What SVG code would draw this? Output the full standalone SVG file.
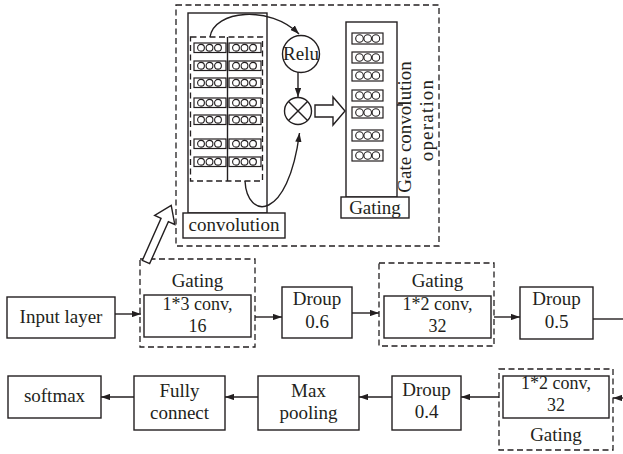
<svg xmlns="http://www.w3.org/2000/svg" width="623" height="454" viewBox="0 0 623 454">
<defs>
<style>
.b{fill:#fff;stroke:#231f20;stroke-width:1.4}
.d{fill:none;stroke:#231f20;stroke-width:1.3;stroke-dasharray:6,3.5}
.t{font-family:"Liberation Serif","Times New Roman",serif;font-size:19px;fill:#231f20;text-anchor:middle}
.s{font-size:18px}
.l{fill:none;stroke:#231f20;stroke-width:1.4}
.h{fill:#fff;stroke:#231f20;stroke-width:1.4;stroke-linejoin:miter}
.o{fill:none;stroke:#231f20;stroke-width:1.1}
</style>
<marker id="ah" viewBox="0 0 10 7" refX="10" refY="3.5" markerWidth="9" markerHeight="6.5" markerUnits="userSpaceOnUse" orient="auto"><path d="M0,0 L10,3.5 L0,7 z" fill="#231f20"/></marker>
<g id="cellL">
<rect x="0" y="0" width="32" height="9.5" fill="#fff" stroke="#231f20" stroke-width="1.2"/>
<circle cx="7" cy="4.75" r="3.4" class="o"/>
<circle cx="15.5" cy="4.75" r="3.4" class="o"/>
<circle cx="24" cy="4.75" r="3.4" class="o"/>
</g>
<g id="cellR">
<rect x="0" y="0" width="31" height="11" fill="#fff" stroke="#231f20" stroke-width="1.2"/>
<circle cx="7.5" cy="5.5" r="3.8" class="o"/>
<circle cx="15.7" cy="5.5" r="3.8" class="o"/>
<circle cx="23.9" cy="5.5" r="3.8" class="o"/>
</g>
</defs>
<rect width="623" height="454" fill="#fff"/>

<g id="gate-conv-operation">
<rect x="176" y="5" width="263" height="241" class="d"/>
<g id="conv-column">
<rect x="188" y="13" width="79" height="200" class="b"/>
<rect x="190.5" y="37" width="72" height="144" class="d"/>
<line x1="227.5" y1="37" x2="227.5" y2="181" class="l" stroke-width="1.2"/>
<use href="#cellL" x="194" y="43"/><use href="#cellL" x="229" y="43"/>
<use href="#cellL" x="194" y="61"/><use href="#cellL" x="229" y="61"/>
<use href="#cellL" x="194" y="78"/><use href="#cellL" x="229" y="78"/>
<use href="#cellL" x="194" y="98"/><use href="#cellL" x="229" y="98"/>
<use href="#cellL" x="194" y="115"/><use href="#cellL" x="229" y="115"/>
<use href="#cellL" x="194" y="139"/><use href="#cellL" x="229" y="139"/>
<use href="#cellL" x="194" y="157"/><use href="#cellL" x="229" y="157"/>
</g>
<g id="convolution">
<rect x="183" y="213" width="102" height="25" class="b"/>
<text x="234" y="231" class="t">convolution</text>
</g>
<g id="relu">
<circle cx="301" cy="54" r="18.5" class="b"/>
<text x="301" y="60" class="t">Relu</text>
</g>
<g id="multiply">
<circle cx="298" cy="111" r="13.5" class="b"/>
<line x1="288.5" y1="101.5" x2="307.5" y2="120.5" class="l"/>
<line x1="307.5" y1="101.5" x2="288.5" y2="120.5" class="l"/>
</g>
<g id="gate-column">
<rect x="346" y="22" width="51" height="175" class="b"/>
<use href="#cellR" x="352" y="33"/>
<use href="#cellR" x="352" y="52"/>
<use href="#cellR" x="352" y="70"/>
<use href="#cellR" x="352" y="90"/>
<use href="#cellR" x="352" y="107"/>
<use href="#cellR" x="352" y="130"/>
<use href="#cellR" x="352" y="150"/>
</g>
<g id="gating-top">
<rect x="341" y="197" width="68" height="21" class="b"/>
<text x="375" y="214" class="t">Gating</text>
</g>
<g id="label">
<line x1="397" y1="105" x2="403" y2="105" class="l"/>
<text transform="translate(411,127) rotate(-90)" class="t">Gate convolution</text>
<text transform="translate(433,120) rotate(-90)" class="t" letter-spacing="1.2">operation</text>
</g>
</g>

<g id="input"><rect x="7" y="297" width="108" height="41" class="b"/><text x="61" y="323" class="t">Input layer</text></g>
<g id="gating1"><rect x="140" y="259" width="115" height="88" class="d"/><rect x="144" y="295" width="107" height="42" class="b"/><text x="197.5" y="287" class="t">Gating</text><text x="197.5" y="310" class="t s">1*3 conv,</text><text x="197.5" y="332" class="t s">16</text></g>
<g id="droup06"><rect x="282" y="287" width="70" height="51" class="b"/><text x="317" y="305" class="t">Droup</text><text x="317" y="328" class="t">0.6</text></g>
<g id="gating2"><rect x="379" y="263" width="115" height="83" class="d"/><rect x="384" y="296" width="107" height="42" class="b"/><text x="437.5" y="287" class="t">Gating</text><text x="437.5" y="310" class="t s">1*2 conv,</text><text x="437.5" y="332" class="t s">32</text></g>
<g id="droup05"><rect x="520" y="287" width="73" height="52" class="b"/><text x="556.5" y="305" class="t">Droup</text><text x="556.5" y="328" class="t">0.5</text></g>

<g id="softmax"><rect x="8" y="376" width="93" height="42" class="b"/><text x="54.5" y="402" class="t">softmax</text></g>
<g id="fully"><rect x="134" y="376" width="91" height="54" class="b"/><text x="179.5" y="397" class="t">Fully</text><text x="179.5" y="419" class="t">connect</text></g>
<g id="maxpool"><rect x="258" y="376" width="101" height="54" class="b"/><text x="308.5" y="397" class="t">Max</text><text x="308.5" y="419" class="t">pooling</text></g>
<g id="droup04"><rect x="392" y="376" width="69" height="54" class="b"/><text x="426.5" y="396" class="t">Droup</text><text x="426.5" y="418" class="t">0.4</text></g>
<g id="gating3"><rect x="499" y="369" width="114" height="81" class="d"/><rect x="503" y="376" width="106" height="42" class="b"/><text x="556" y="389" class="t s">1*2 conv,</text><text x="556" y="411" class="t s">32</text><text x="556" y="441" class="t">Gating</text></g>

<g id="connectors">
<path d="M210,37 C214,10 270,5 299,34" class="l" marker-end="url(#ah)"/>
<path d="M298,72 L298,97" class="l" marker-end="url(#ah)"/>
<path d="M245,181 C247,220 288,222 299.5,133" class="l" marker-end="url(#ah)"/>
<polygon points="315,105 333,105 333,97 345,111 333,125 333,117 315,117" class="h"/>
<polygon transform="translate(146,262) rotate(-66)" points="0,-4 46,-4 46,-11 62,0 46,11 46,4 0,4" class="h"/>
<path d="M115,314 L141,314" class="l" marker-end="url(#ah)"/>
<path d="M255,317 L282,317" class="l" marker-end="url(#ah)"/>
<path d="M352,313 L379,313" class="l" marker-end="url(#ah)"/>
<path d="M494,317 L520,317" class="l" marker-end="url(#ah)"/>
<path d="M593,319 L623,319" class="l"/>
<path d="M623,398 L613,398" class="l" marker-end="url(#ah)"/>
<path d="M499,397 L461,397" class="l" marker-end="url(#ah)"/>
<path d="M392,397 L359,397" class="l" marker-end="url(#ah)"/>
<path d="M258,397 L225,397" class="l" marker-end="url(#ah)"/>
<path d="M134,397 L101,397" class="l" marker-end="url(#ah)"/>
</g>
</svg>
